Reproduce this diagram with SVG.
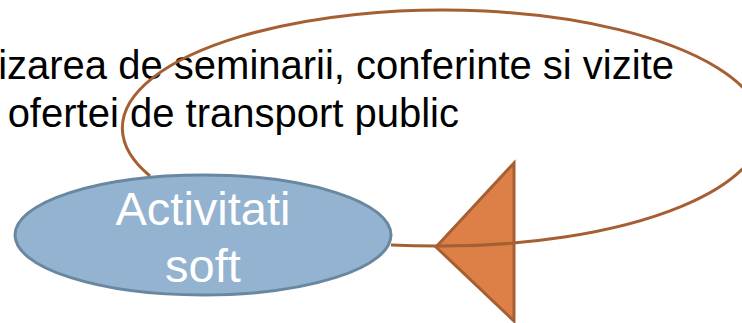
<svg xmlns="http://www.w3.org/2000/svg" width="742" height="323" viewBox="0 0 742 323">
<style>
.lbl{font-family:"Liberation Sans",Arial,sans-serif;font-size:40px;fill:#000}
.node{font-family:"Liberation Sans",Arial,sans-serif;font-size:47px;fill:#fff;text-anchor:middle}
.conn{fill:none;stroke:#A65F33;stroke-width:3}
</style>
<g id="labels">
<text class="lbl" x="674" y="79" text-anchor="end">izarea de seminarii, conferinte si vizite</text>
<text class="lbl" x="459" y="127" text-anchor="end">ofertei de transport public</text>
</g>
<g id="arrowhead">
<polygon points="436,247 514,163 514,321" fill="#DD8047" stroke="#A65F33" stroke-width="3" stroke-linejoin="miter"/>
</g>
<g id="connectors">
<path class="conn" d="M391,245 Q414,246 437,246 A320,118 0 1 0 150,176"/>
</g>
<g id="node-activitati">
<ellipse cx="203" cy="235" rx="188" ry="60" fill="#93B3D0" stroke="#6A87A0" stroke-width="3"/>
<text class="node" x="203" y="225">Activitati</text>
<text class="node" x="203" y="282">soft</text>
</g>
</svg>
